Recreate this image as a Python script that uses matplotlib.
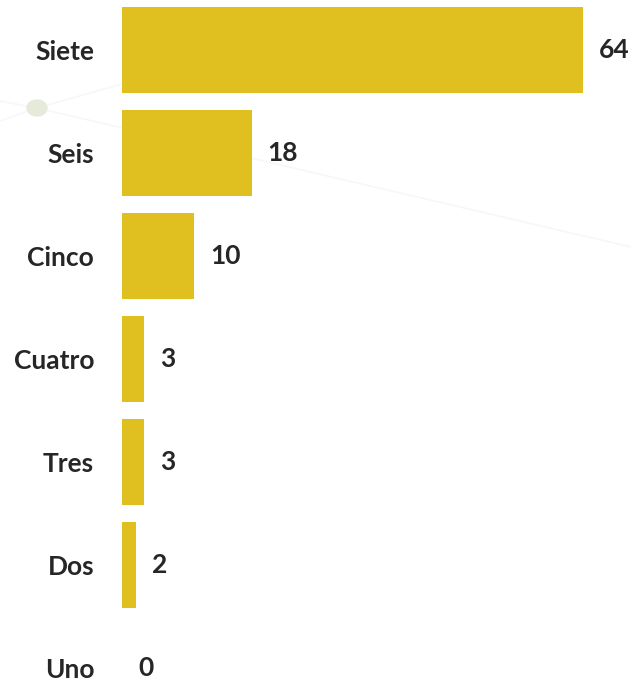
import matplotlib
matplotlib.use("Agg")
import matplotlib.pyplot as plt
from matplotlib.lines import Line2D
from matplotlib.patches import Ellipse

# categorías y conteos (de abajo hacia arriba)
categorias = ["Uno", "Dos", "Tres", "Cuatro", "Cinco", "Seis", "Siete"]
valores = [0, 2, 3, 3, 10, 18, 64]

color_barra = "#DFC020"
color_texto = "#262626"

plt.rcParams["font.family"] = ["Lato", "DejaVu Sans"]

fig = plt.figure(figsize=(6.31, 6.83), dpi=100)
fig.patch.set_facecolor("white")

# adorno de fondo: líneas tenues y un punto
deco = [
    ([0, 37], [1 - 101 / 683, 1 - 108 / 683]),
    ([0, 37], [1 - 121 / 683, 1 - 108 / 683]),
    ([37, 122], [1 - 108 / 683, 1 - 84 / 683]),
    ([37, 631], [1 - 108 / 683, 1 - 247 / 683]),
]
for xs, ys in deco:
    fig.add_artist(Line2D([x / 631 for x in xs], ys, color="#f7f7f7",
                          lw=1.2, zorder=0))
fig.add_artist(Ellipse((37 / 631, 1 - 108 / 683), 20 / 631, 16 / 683,
                       color="#e6eada", zorder=0))

ax = fig.add_axes([122 / 631, 0, 509 / 631, 1])
ax.patch.set_alpha(0)

y = range(len(categorias))
ax.barh(y, valores, height=0.835, color=color_barra, zorder=2)

for i, v in enumerate(valores):
    ax.annotate(str(v), (v, i), xytext=(16, 0), textcoords="offset pixels",
                va="center", ha="left", fontsize=19, fontweight="bold",
                color=color_texto)

ax.set_xlim(0, 509 / 7.2)
ax.set_ylim(-15 / 103, 6 + 50 / 103)
ax.set_yticks(list(y))
ax.set_yticklabels(categorias, fontsize=19, fontweight="bold", color=color_texto)
ax.tick_params(axis="y", length=0, pad=20)
ax.set_xticks([])
for s in ax.spines.values():
    s.set_visible(False)

fig.savefig("out.png", dpi=100, facecolor="white")
